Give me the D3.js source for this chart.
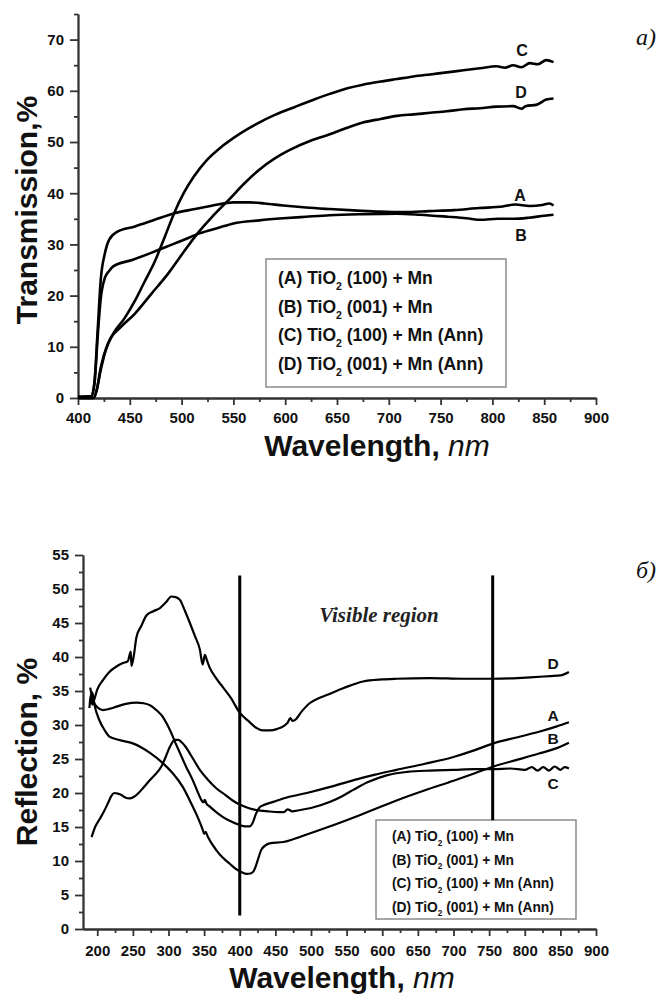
<!DOCTYPE html>
<html>
<head>
<meta charset="utf-8">
<script src="https://cdn.jsdelivr.net/npm/d3@7"></script>
<style>
    body { margin: 0; background: #fff; }
    svg { display: block; }
</style>
</head>
<body>
<div id="chart"></div>
<script>
// ---- data ----
// panel a) transmission, [wavelength nm, %]
var transA = [[400,0.3],[413,0.4],[416,3.4],[419,13.3],[422,23.2],[426,28.3],[430,30.9],[438,32.5],[455,33.5],[474,34.8],[493,36.1],[513,36.9],[530,37.6],[550,38.2],[566,38.2],[580,38.0],[598,37.6],[620,37.2],[643,36.9],[670,36.6],[691,36.4],[715,36.3],[739,36.5],[763,36.7],[787,37.1],[810,37.4],[822,37.8],[836,37.5],[848,37.7],[855,38.0],[859,37.6]];
var transB = [[400,0.2],[413,0.3],[416,3.0],[419,12.0],[422,19.5],[426,23.5],[430,24.8],[434,25.7],[453,27.0],[470,28.3],[486,29.6],[500,30.7],[518,32.2],[535,33.2],[550,34.1],[575,34.7],[598,35.1],[620,35.4],[643,35.7],[675,35.9],[708,36.0],[730,35.8],[757,35.4],[775,35.1],[789,34.8],[805,35.0],[821,35.0],[835,35.2],[850,35.6],[859,35.8]];
var transC = [[400,0],[415,0],[418,1.5],[422,6.0],[429,10.7],[435,12.9],[445,15.6],[455,19.0],[464,22.6],[474,26.6],[484,31.6],[493,36.2],[502,40.0],[512,43.3],[525,46.6],[540,49.3],[556,51.6],[572,53.5],[590,55.3],[610,56.9],[628,58.3],[643,59.4],[660,60.5],[675,61.2],[692,61.8],[708,62.3],[724,62.8],[740,63.2],[756,63.6],[772,64.0],[788,64.4],[804,64.8],[812,64.5],[820,65.0],[828,64.6],[836,65.4],[844,65.2],[852,66.0],[859,65.6]];
var transD = [[400,0],[415,0],[418,1.5],[422,5.5],[427,9.5],[432,11.8],[441,13.8],[455,16.5],[471,20.4],[487,24.3],[503,28.8],[516,32.3],[530,35.5],[546,38.8],[560,41.8],[575,44.6],[590,46.8],[605,48.5],[625,50.3],[643,51.5],[660,52.8],[675,53.8],[692,54.5],[708,55.1],[724,55.4],[740,55.7],[756,56.0],[772,56.4],[788,56.6],[804,56.9],[820,57.0],[828,56.5],[832,57.0],[843,57.3],[852,58.3],[859,58.5]];

// panel б) reflection, [wavelength nm, %]
var reflA = [[190,35.5],[194,33.7],[200,32.6],[208,32.2],[218,32.4],[227,32.7],[240,33.1],[255,33.3],[265,33.2],[274,32.9],[284,32.1],[292,31.2],[298,30.1],[304,28.8],[310,27.3],[316,25.9],[325,23.8],[334,21.9],[340,20.4],[346,19.0],[349,18.6],[351,19.0],[353,18.5],[358,18.0],[367,17.2],[376,16.5],[388,15.8],[400,15.3],[407,15.1],[414,15.1],[418,15.6],[423,17.0],[428,17.9],[433,18.2],[447,18.7],[461,19.2],[494,20.0],[527,20.9],[560,21.9],[590,22.7],[620,23.4],[660,24.3],[700,25.3],[730,26.3],[756,27.3],[790,28.2],[820,29.0],[845,29.8],[862,30.4]];
var reflB = [[190,33.0],[193,34.8],[196,33.0],[203,30.7],[210,29.3],[217,28.3],[231,27.8],[250,27.3],[262,26.7],[274,25.9],[292,24.4],[306,22.9],[320,20.9],[334,18.0],[342,16.2],[348,14.6],[350,14.0],[352,14.3],[355,13.6],[367,11.6],[376,10.5],[386,9.6],[395,8.8],[402,8.4],[410,8.1],[416,8.2],[420,8.6],[423,9.4],[427,10.7],[430,11.6],[436,12.3],[442,12.6],[461,12.8],[494,13.9],[527,15.1],[570,16.8],[620,18.9],[660,20.4],[700,21.8],[730,22.9],[756,23.9],[790,24.9],[820,25.8],[845,26.6],[862,27.4]];
var reflC = [[192,13.5],[197,15.0],[203,16.1],[209,17.2],[215,18.5],[220,19.6],[224,20.0],[229,19.9],[234,19.7],[240,19.3],[245,19.2],[251,19.4],[257,19.9],[265,20.8],[274,21.9],[282,22.8],[290,23.9],[296,25.3],[302,26.8],[309,27.8],[314,27.8],[318,27.5],[324,26.8],[330,25.8],[337,24.6],[344,23.4],[355,22.0],[367,20.7],[380,19.7],[390,18.9],[400,18.3],[412,17.8],[423,17.5],[440,17.3],[455,17.2],[462,17.2],[467,17.6],[470,17.5],[473,17.3],[485,17.5],[500,17.8],[527,18.7],[545,19.6],[560,20.5],[580,21.6],[606,22.6],[635,23.1],[667,23.3],[700,23.4],[730,23.5],[756,23.5],[780,23.6],[800,23.4],[810,23.8],[818,23.3],[826,23.8],[834,23.3],[842,23.9],[850,23.4],[856,23.8],[862,23.6]];
var reflD = [[189,32.5],[191,34.5],[193,33.0],[196,33.8],[200,35.2],[208,36.6],[217,37.8],[227,38.6],[236,39.1],[243,39.4],[247,40.8],[248,38.7],[251,40.0],[255,42.9],[262,44.6],[269,46.1],[278,46.7],[288,47.2],[296,48.0],[304,48.9],[310,48.8],[316,48.4],[323,46.8],[330,45.0],[337,43.1],[344,41.1],[348,38.9],[351,40.3],[354,39.5],[358,38.4],[366,37.0],[376,35.6],[388,33.9],[400,31.8],[412,30.6],[423,29.6],[432,29.2],[442,29.2],[452,29.4],[461,29.8],[467,30.3],[471,31.0],[474,30.6],[477,30.7],[487,32.0],[498,33.2],[510,33.9],[522,34.4],[545,35.4],[573,36.4],[600,36.7],[620,36.8],[667,36.9],[714,36.8],[756,36.8],[790,36.9],[808,37.0],[836,37.2],[850,37.3],[862,37.8]];

// tick values
var topXTicks = [400, 450, 500, 550, 600, 650, 700, 750, 800, 850, 900];
var topYTicks = [0, 10, 20, 30, 40, 50, 60, 70];
var botXTicks = [200, 250, 300, 350, 400, 450, 500, 550, 600, 650, 700, 750, 800, 850, 900];
var botYTicks = [0, 5, 10, 15, 20, 25, 30, 35, 40, 45, 50, 55];

// legend / curve labels
var legendKeys = ["(A) TiO", "(B) TiO", "(C) TiO", "(D) TiO"];
var legendRest = [" (100) + Mn", " (001) + Mn", " (100) + Mn (Ann)", " (001) + Mn (Ann)"];
var curveNames = ["A", "B", "C", "D"];
// visible region borders, nm
var visibleEdges = [400, 755];

var sans = "'Liberation Sans', Arial, sans-serif";
var serif = "'Liberation Serif', 'Times New Roman', serif";

var svg = d3.select("#chart").append("svg")
    .attr("width", 659)
    .attr("height", 994);

/**
 * Draws one panel: axes with major + minor ticks, curves, curve labels, legend
 */
function drawPanel(opt) {
    var x = d3.scaleLinear().domain(opt.xDomain).range(opt.xRange);
    var y = d3.scaleLinear().domain(opt.yDomain).range(opt.yRange);
    var g = svg.append("g");

    var minorX = d3.range(opt.xMinorStart, opt.xDomain[1], opt.xMinorStep);
    var minorY = d3.range(opt.yMinorStep, opt.yDomain[1] + 0.01, opt.yMinorStep * 2);

    // minor ticks first, major ticks with labels on top
    g.append("g")
        .attr("transform", "translate(0," + opt.yRange[0] + ")")
        .call(d3.axisBottom(x).tickValues(minorX).tickFormat("").tickSize(4).tickSizeOuter(0));
    g.append("g")
        .attr("transform", "translate(" + opt.xRange[0] + ",0)")
        .call(d3.axisLeft(y).tickValues(minorY).tickFormat("").tickSize(4).tickSizeOuter(0));

    var xAxis = g.append("g")
        .attr("transform", "translate(0," + opt.yRange[0] + ")")
        .call(d3.axisBottom(x).tickValues(opt.xTicks).tickSize(7).tickSizeOuter(0));
    var yAxis = g.append("g")
        .attr("transform", "translate(" + opt.xRange[0] + ",0)")
        .call(d3.axisLeft(y).tickValues(opt.yTicks).tickSize(8).tickPadding(6).tickSizeOuter(0));

    g.selectAll(".domain, .tick line").attr("stroke", "#333").attr("stroke-width", 1.8);
    // x tick labels: y is the baseline below the axis
    xAxis.selectAll("text").attr("y", opt.xLabelY).attr("dy", null);
    g.selectAll(".tick text")
        .attr("fill", "#111")
        .attr("font-size", opt.tickFont)
        .style("font-family", sans)
        .style("font-weight", "bold")
        .style("font-size", opt.tickFont + "px");

    // curves
    var line = d3.line()
        .x(function(d) { return x(d[0]); })
        .y(function(d) { return y(d[1]); })
        .curve(d3.curveMonotoneX);

    opt.series.forEach(function(s) {
        g.append("path")
            .datum(s)
            .attr("fill", "none")
            .attr("stroke", "#000")
            .attr("stroke-width", opt.lineWidth)
            .attr("stroke-linejoin", "round")
            .attr("d", line);
    });

    opt.curveLabels.forEach(function(p, i) {
        g.append("text")
            .attr("x", p[0])
            .attr("y", p[1])
            .attr("text-anchor", "middle")
            .style("font-family", sans)
            .style("font-weight", "bold")
            .style("font-size", opt.labelFont + "px")
            .attr("fill", "#111")
            .text(curveNames[i]);
    });

    // legend box
    var lb = opt.legend;
    g.append("rect")
        .attr("x", lb.x).attr("y", lb.y)
        .attr("width", lb.w).attr("height", lb.h)
        .attr("fill", "#fff")
        .attr("stroke", "#8a8a8a")
        .attr("stroke-width", 1.5);

    legendKeys.forEach(function(k, i) {
        var t = g.append("text")
            .attr("x", lb.tx)
            .attr("y", lb.ty + i * lb.step)
            .attr("fill", "#111")
            .style("font-family", sans)
            .style("font-weight", "bold")
            .style("font-size", lb.font + "px");
        t.append("tspan").text(k);
        t.append("tspan").attr("dy", lb.font * 0.35).style("font-size", (lb.font * 0.6) + "px").text("2");
        t.append("tspan").attr("dy", -lb.font * 0.35).text(legendRest[i]);
    });

    // axis titles
    svg.append("text")
        .attr("transform", "translate(" + opt.yTitle[0] + "," + opt.yTitle[1] + ") rotate(-90)")
        .attr("text-anchor", "middle")
        .attr("fill", "#111")
        .style("font-family", sans)
        .style("font-weight", "bold")
        .style("font-size", "30px")
        .text(opt.yTitleText);

    var xt = svg.append("text")
        .attr("x", opt.xTitle[0])
        .attr("y", opt.xTitle[1])
        .attr("text-anchor", "middle")
        .attr("fill", "#111")
        .style("font-family", sans)
        .style("font-size", "30px");
    xt.append("tspan").style("font-weight", "bold").text("Wavelength, ");
    xt.append("tspan").style("font-style", "italic").text("nm");

    // panel letter
    svg.append("text")
        .attr("x", 646).attr("y", opt.letterY)
        .attr("text-anchor", "middle")
        .attr("fill", "#111")
        .style("font-family", serif)
        .style("font-style", "italic")
        .style("font-size", "24px")
        .text(opt.letter);

    return { x: x, y: y, g: g };
}

drawPanel({
    xDomain: [400, 900], xRange: [78, 596],
    yDomain: [0, 75], yRange: [398, 14],
    xTicks: topXTicks, yTicks: topYTicks,
    xMinorStart: 425, xMinorStep: 50, yMinorStep: 5,
    xLabelY: 25, tickFont: 15,
    series: [transA, transB, transC, transD],
    lineWidth: 2.6,
    curveLabels: [[520, 201], [521, 241], [522, 56], [521, 98]],
    labelFont: 16,
    legend: { x: 266, y: 259, w: 240, h: 128, tx: 278, ty: 284, step: 28.5, font: 17.5 },
    yTitle: [37, 210], yTitleText: "Transmission,%",
    xTitle: [377, 456],
    letter: "a)", letterY: 45
});

var bot = drawPanel({
    xDomain: [180, 900], xRange: [83, 596],
    yDomain: [0, 55], yRange: [929, 555],
    xTicks: botXTicks, yTicks: botYTicks,
    xMinorStart: 225, xMinorStep: 50, yMinorStep: 2.5,
    xLabelY: 27, tickFont: 15,
    series: [reflA, reflB, reflC, reflD],
    lineWidth: 2.2,
    curveLabels: [[553, 721], [553, 744], [553, 789], [553, 669]],
    labelFont: 15.5,
    legend: { x: 376, y: 820, w: 200, h: 99, tx: 392, ty: 841, step: 23.5, font: 13.8 },
    yTitle: [37, 752], yTitleText: "Reflection, %",
    xTitle: [342, 988],
    letter: "б)", letterY: 578
});

// visible region borders: first runs down to ~2 %, second stops at the legend
var edgeBottoms = [2, 16];
visibleEdges.forEach(function(w, i) {
    bot.g.append("line")
        .attr("x1", bot.x(w)).attr("x2", bot.x(w))
        .attr("y1", bot.y(52)).attr("y2", bot.y(edgeBottoms[i]))
        .attr("stroke", "#000")
        .attr("stroke-width", 3);
});

svg.append("text")
    .attr("x", 379).attr("y", 622)
    .attr("text-anchor", "middle")
    .attr("fill", "#222")
    .style("font-family", serif)
    .style("font-style", "italic")
    .style("font-weight", "bold")
    .style("font-size", "21px")
    .text("Visible region");
</script>
</body>
</html>
